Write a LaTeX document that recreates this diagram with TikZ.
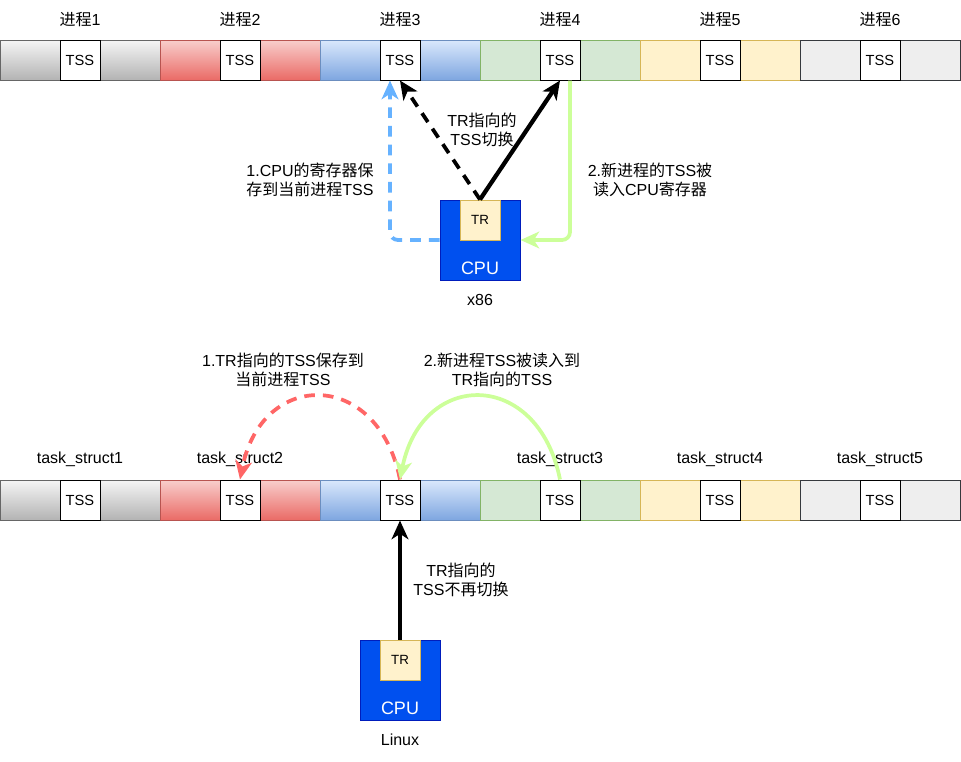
\documentclass[tikz,border=0pt]{standalone}
\usepackage{fontspec}
\setmainfont{Liberation Sans}
\newfontfamily\cjk{Noto Sans CJK SC}
\usepackage{xcolor}
\usetikzlibrary{arrows.meta}

\newcommand{\zh}[1]{{\cjk #1}}

% block colours
\definecolor{gTop}{HTML}{F5F5F5}
\definecolor{gBot}{HTML}{B3B3B3}
\definecolor{gLine}{HTML}{666666}
\definecolor{rTop}{HTML}{F8CECC}
\definecolor{rBot}{HTML}{EA6B66}
\definecolor{rLine}{HTML}{B85450}
\definecolor{bTop}{HTML}{DAE8FC}
\definecolor{bBot}{HTML}{7EA6E0}
\definecolor{bLine}{HTML}{6C8EBF}
\definecolor{grn}{HTML}{D5E8D4}
\definecolor{grnLine}{HTML}{82B366}
\definecolor{yel}{HTML}{FFF2CC}
\definecolor{yelLine}{HTML}{D6B656}
\definecolor{lgr}{HTML}{EEEEEE}
\definecolor{lgrLine}{HTML}{36393D}
\definecolor{cpuFill}{HTML}{0050EF}
\definecolor{cpuLine}{HTML}{001DBC}
% arrow colours
\definecolor{saveBlue}{HTML}{66B2FF}
\definecolor{loadGreen}{HTML}{CCFF99}
\definecolor{saveRed}{HTML}{FF6666}

\begin{document}
\begin{tikzpicture}[x=0.75pt,y=-0.75pt,
    every node/.style={font=\fontsize{12}{14.5}\selectfont,align=center},
    block/.style={minimum width=120pt,minimum height=30pt,inner sep=0pt,line width=0.75pt},
    tss/.style={draw=black,fill=white,minimum size=30pt,inner sep=0pt,line width=0.75pt,
      font=\fontsize{11}{12}\selectfont},
    cpu/.style={draw=cpuLine,fill=cpuFill,minimum size=60pt,inner sep=0pt,line width=0.75pt},
    reg/.style={draw=yelLine,fill=yel,minimum size=30pt,inner sep=0pt,line width=0.75pt,
      font=\fontsize{10}{11}\selectfont},
    arr/.style={-{Stealth[length=14pt,width=12.5pt,inset=4pt]}},
    thickline/.style={line width=3.2pt},
    dashline/.style={line width=2.8pt,dash pattern=on 8pt off 6pt},
    greenline/.style={line width=2.8pt,loadGreen}]
  \useasboundingbox (0,0) rectangle (961,761);

  % x86: processes
  \foreach \i/\ft/\fb/\ln in {1/gTop/gBot/gLine,2/rTop/rBot/rLine,3/bTop/bBot/bLine,
      4/grn/grn/grnLine,5/yel/yel/yelLine,6/lgr/lgr/lgrLine} {
    \node[block,draw=\ln,top color=\ft,bottom color=\fb] (p\i) at (\i*160-80,60) {};
    \node[tss] (tss\i) at (p\i) {TSS};
    \node (pname\i) at (\i*160-80,20) {\zh{进程}\i};
  }

  \node[cpu] (cpu1) at (480,240) {};
  \node[reg,anchor=north] (tr1) at (cpu1.north) {TR};
  \node[text=white,font=\fontsize{13.5}{15}\selectfont] (cpuname1) at (480,268) {CPU};
  \node (arch1) at (480,300) {x86};

  \draw[thickline,arr] (tr1.north) -- (tss4.south);
  \draw[dashline,arr] (tr1.north) -- (tss3.south);
  \draw[dashline,saveBlue,rounded corners=6pt,arr] (cpu1.west) -| ([xshift=-7.5pt]tss3.south);
  \draw[greenline,rounded corners=6pt,arr] ([xshift=7.5pt]tss4.south) |- (cpu1.east);

  \node (switch1) at (482,130) {TR\zh{指向的}\\TSS\zh{切换}};
  \node (save1) at (310,180) {1.CPU\zh{的寄存器保}\\\zh{存到当前进程}TSS};
  \node (load1) at (650,180) {2.\zh{新进程的}TSS\zh{被}\\\zh{读入}CPU\zh{寄存器}};

  % Linux: task_struct
  \foreach \i/\ft/\fb/\ln in {1/gTop/gBot/gLine,2/rTop/rBot/rLine,3/bTop/bBot/bLine,
      4/grn/grn/grnLine,5/yel/yel/yelLine,6/lgr/lgr/lgrLine} {
    \node[block,draw=\ln,top color=\ft,bottom color=\fb] (t\i) at (\i*160-80,500) {};
    \node[tss] (ttss\i) at (t\i) {TSS};
  }
  \foreach \i/\b in {1/1,2/2,3/4,4/5,5/6}
    \node (tname\i) at (t\b.north) [yshift=15pt] {task\_struct\i};

  \node[cpu] (cpu2) at (400,680) {};
  \node[reg,anchor=north] (tr2) at (cpu2.north) {TR};
  \node[text=white,font=\fontsize{13.5}{15}\selectfont] (cpuname2) at (400,708) {CPU};
  \node (arch2) at (400,740) {Linux};

  \draw[thickline,arr] (tr2.north) -- (ttss3.south);
  \draw[dashline,saveRed,arr] (ttss3.north) .. controls (378,369) and (262,369) .. (ttss2.north);
  \draw[greenline,arr] (ttss4.north) .. controls (538,369) and (422,369) .. (ttss3.north);

  \node (switch2) at (461,580) {TR\zh{指向的}\\TSS\zh{不再切换}};
  \node (save2) at (283,370) {1.TR\zh{指向的}TSS\zh{保存到}\\\zh{当前进程}TSS};
  \node (load2) at (502,370) {2.\zh{新进程}TSS\zh{被读入到}\\TR\zh{指向的}TSS};
\end{tikzpicture}
\end{document}
